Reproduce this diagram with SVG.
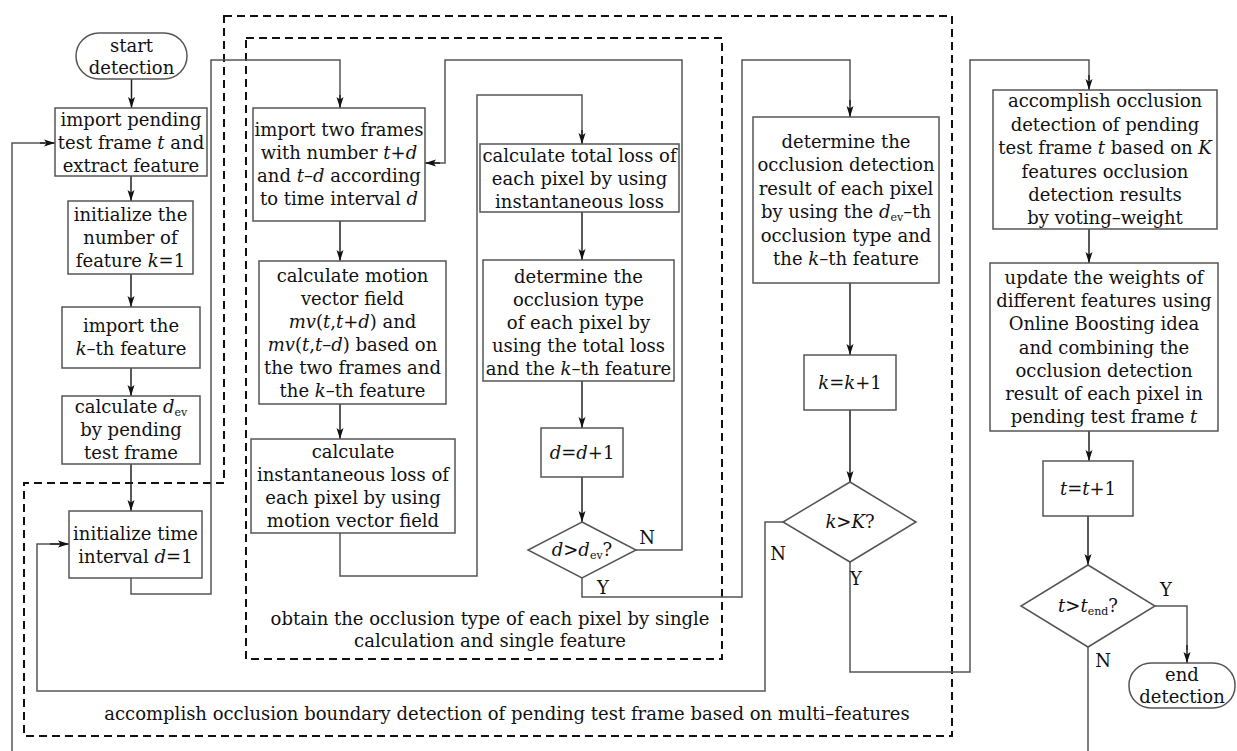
<svg xmlns="http://www.w3.org/2000/svg" width="1237" height="751" viewBox="0 0 1237 751">
<style>
text{font-family:"DejaVu Serif","Liberation Serif",serif;font-size:18px;fill:#111;text-anchor:middle}
.i{font-style:italic}
.sub{font-size:11px;font-style:normal}
.box{fill:#fff;stroke:#555;stroke-width:1.5}
.ln{fill:none;stroke:#555;stroke-width:1.5}
.ar{fill:none;stroke:#222;stroke-width:1.5;marker-end:url(#ah)}
.dash{fill:none;stroke:#111;stroke-width:2;stroke-dasharray:8,5}
.lbl{font-size:18px}
</style>
<defs>
<marker id="ah" markerUnits="userSpaceOnUse" markerWidth="14" markerHeight="10" refX="11" refY="5" orient="auto">
<path d="M0,1.5 L11,5 L0,8.5 L2.5,5 z" fill="#111"/>
</marker>
</defs>
<rect width="1237" height="751" fill="#fff"/>
<g id="groups">
<path class="dash" d="M224,16 H952 V736 H24 V483 H224 Z"/>
<rect class="dash" x="246" y="38" width="476" height="621"/>
<text x="490" y="625">obtain the occlusion type of each pixel by single</text>
<text x="490" y="647">calculation and single feature</text>
<text x="507" y="720">accomplish occlusion boundary detection of pending test frame based on multi–features</text>
</g>
<g id="connectors">
<path class="ar" d="M131.5,79 V108"/>
<path class="ar" d="M131,176 V201"/>
<path class="ar" d="M131,274 V307"/>
<path class="ar" d="M131,368 V396"/>
<path class="ar" d="M131,464 V511"/>
<path class="ln" d="M131,578 V594 H211 V60 H340 V100"/>
<path class="ar" d="M340,95 V108"/>
<path class="ar" d="M340,221 V261"/>
<path class="ar" d="M340,404 V439"/>
<path class="ln" d="M340,533 V576 H477 V95 H582 V135"/>
<path class="ar" d="M582,130 V144"/>
<path class="ar" d="M582,212 V260"/>
<path class="ar" d="M582,381 V428"/>
<path class="ar" d="M582,477 V522"/>
<path class="ln" d="M636,550 H682 V60 H445 V163 H432"/>
<path class="ar" d="M440,163 H425"/>
<path class="ln" d="M582,578 V597 H742 V60 H850 V105"/>
<path class="ar" d="M850,100 V117"/>
<path class="ar" d="M850,283 V355"/>
<path class="ar" d="M850,410 V482"/>
<path class="ln" d="M783,522 H765 V691 H37 V544 H60"/>
<path class="ar" d="M50,544 H69"/>
<path class="ln" d="M850,562 V672 H970 V60 H1089 V80"/>
<path class="ar" d="M1089,75 V90"/>
<path class="ar" d="M1089,229 V263"/>
<path class="ar" d="M1089,431 V461"/>
<path class="ar" d="M1088,516 V565"/>
<path class="ln" d="M1155,606 H1187 V650"/>
<path class="ar" d="M1187,645 V663"/>
<path class="ln" d="M1088,647 V751"/>
<path class="ln" d="M12,751 V143 H45"/>
<path class="ar" d="M40,143 H55"/>
<text class="lbl" x="647" y="544">N</text>
<text class="lbl" x="603" y="594">Y</text>
<text class="lbl" x="778" y="560">N</text>
<text class="lbl" x="856" y="585">Y</text>
<text class="lbl" x="1103" y="667">N</text>
<text class="lbl" x="1166" y="596">Y</text>
</g>
<g id="start">
<rect class="box" x="76" y="33" width="111" height="46" rx="23"/>
<text x="131.5" y="52">start</text>
<text x="131.5" y="74">detection</text>
</g>
<g id="import-frame">
<rect class="box" x="55" y="108" width="152" height="68"/>
<text x="131" y="126">import pending</text>
<text x="131" y="149">test frame <tspan class="i">t</tspan> and</text>
<text x="131" y="172">extract feature</text>
</g>
<g id="init-k">
<rect class="box" x="68" y="201" width="125" height="73"/>
<text x="130.5" y="221">initialize the</text>
<text x="130.5" y="244">number of</text>
<text x="130.5" y="267">feature <tspan class="i">k</tspan>=1</text>
</g>
<g id="import-kth">
<rect class="box" x="62" y="307" width="138" height="61"/>
<text x="131" y="332">import the</text>
<text x="131" y="355"><tspan class="i">k</tspan>–th feature</text>
</g>
<g id="calc-dev">
<rect class="box" x="62" y="396" width="138" height="68"/>
<text x="131" y="413">calculate <tspan class="i">d</tspan><tspan class="sub" dy="3">ev</tspan></text>
<text x="131" y="436">by pending</text>
<text x="131" y="459">test frame</text>
</g>
<g id="init-d">
<rect class="box" x="69" y="511" width="133" height="67"/>
<text x="135.5" y="540">initialize time</text>
<text x="135.5" y="563">interval <tspan class="i">d</tspan>=1</text>
</g>
<g id="import-two">
<rect class="box" x="253" y="108" width="172" height="113"/>
<text x="339" y="136">import two frames</text>
<text x="339" y="159">with number <tspan class="i">t</tspan>+<tspan class="i">d</tspan></text>
<text x="339" y="182">and <tspan class="i">t</tspan>–<tspan class="i">d</tspan> according</text>
<text x="339" y="205">to time interval <tspan class="i">d</tspan></text>
</g>
<g id="motion">
<rect class="box" x="259" y="261" width="187" height="143"/>
<text x="352.5" y="282">calculate motion</text>
<text x="352.5" y="305">vector field</text>
<text x="352.5" y="328"><tspan class="i">mv</tspan>(<tspan class="i">t</tspan>,<tspan class="i">t</tspan>+<tspan class="i">d</tspan>) and</text>
<text x="352.5" y="351"><tspan class="i">mv</tspan>(<tspan class="i">t</tspan>,<tspan class="i">t</tspan>–<tspan class="i">d</tspan>) based on</text>
<text x="352.5" y="374">the two frames and</text>
<text x="352.5" y="397">the <tspan class="i">k</tspan>–th feature</text>
</g>
<g id="inst-loss">
<rect class="box" x="251" y="439" width="204" height="94"/>
<text x="353" y="458">calculate</text>
<text x="353" y="481">instantaneous loss of</text>
<text x="353" y="504">each pixel by using</text>
<text x="353" y="527">motion vector field</text>
</g>
<g id="total-loss">
<rect class="box" x="480" y="144" width="199" height="68"/>
<text x="579.5" y="162">calculate total loss of</text>
<text x="579.5" y="185">each pixel by using</text>
<text x="579.5" y="208">instantaneous loss</text>
</g>
<g id="occ-type">
<rect class="box" x="483" y="260" width="191" height="121"/>
<text x="578.5" y="283">determine the</text>
<text x="578.5" y="306">occlusion type</text>
<text x="578.5" y="329">of each pixel by</text>
<text x="578.5" y="352">using the total loss</text>
<text x="578.5" y="375">and the <tspan class="i">k</tspan>–th feature</text>
</g>
<g id="d-inc">
<rect class="box" x="541" y="428" width="82" height="49"/>
<text x="582" y="459"><tspan class="i">d</tspan>=<tspan class="i">d</tspan>+1</text>
</g>
<g id="d-check">
<path class="box" d="M582,522 L636,550 L582,578 L528,550 Z"/>
<text x="582" y="556"><tspan class="i">d</tspan>&gt;<tspan class="i">d</tspan><tspan class="sub" dy="3">ev</tspan><tspan dy="-3">?</tspan></text>
</g>
<g id="occ-result">
<rect class="box" x="753" y="117" width="186" height="166"/>
<text x="846" y="148">determine the</text>
<text x="846" y="171">occlusion detection</text>
<text x="846" y="195">result of each pixel</text>
<text x="846" y="218">by using the <tspan class="i">d</tspan><tspan class="sub" dy="3">ev</tspan><tspan dy="-3">–th</tspan></text>
<text x="846" y="242">occlusion type and</text>
<text x="846" y="265">the <tspan class="i">k</tspan>–th feature</text>
</g>
<g id="k-inc">
<rect class="box" x="804" y="355" width="92" height="55"/>
<text x="850" y="389"><tspan class="i">k</tspan>=<tspan class="i">k</tspan>+1</text>
</g>
<g id="k-check">
<path class="box" d="M850,482 L916,522 L850,562 L783,522 Z"/>
<text x="850" y="528"><tspan class="i">k</tspan>&gt;<tspan class="i">K</tspan>?</text>
</g>
<g id="vote">
<rect class="box" x="993" y="90" width="224" height="139"/>
<text x="1105" y="107">accomplish occlusion</text>
<text x="1105" y="131">detection of pending</text>
<text x="1105" y="154">test frame <tspan class="i">t</tspan> based on <tspan class="i">K</tspan></text>
<text x="1105" y="178">features occlusion</text>
<text x="1105" y="201">detection results</text>
<text x="1105" y="224">by voting–weight</text>
</g>
<g id="update">
<rect class="box" x="990" y="263" width="228" height="168"/>
<text x="1104" y="284">update the weights of</text>
<text x="1104" y="307">different features using</text>
<text x="1104" y="330">Online Boosting idea</text>
<text x="1104" y="354">and combining the</text>
<text x="1104" y="377">occlusion detection</text>
<text x="1104" y="400">result of each pixel in</text>
<text x="1104" y="423">pending test frame <tspan class="i">t</tspan></text>
</g>
<g id="t-inc">
<rect class="box" x="1043" y="461" width="90" height="55"/>
<text x="1088" y="495"><tspan class="i">t</tspan>=<tspan class="i">t</tspan>+1</text>
</g>
<g id="t-check">
<path class="box" d="M1088,565 L1155,606 L1088,647 L1021,606 Z"/>
<text x="1088" y="612"><tspan class="i">t</tspan>&gt;<tspan class="i">t</tspan><tspan class="sub" dy="3">end</tspan><tspan dy="-3">?</tspan></text>
</g>
<g id="end">
<rect class="box" x="1129" y="663" width="106" height="45" rx="22"/>
<text x="1182" y="681">end</text>
<text x="1182" y="703">detection</text>
</g>
</svg>
